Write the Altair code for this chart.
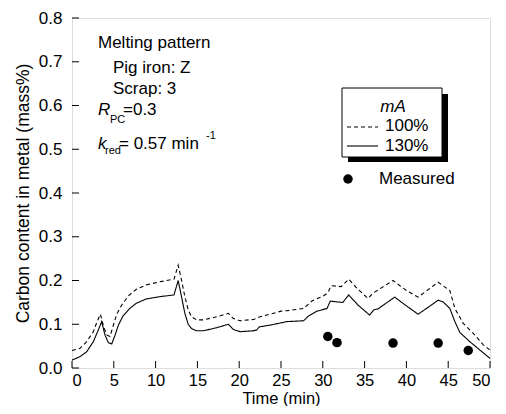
import altair as alt
import pandas as pd

# ---- data ----
t_100 = [0, 0.96, 1.75, 2.55, 3.0, 3.4, 3.8, 4.2, 4.55, 4.95, 5.35, 5.95, 6.75, 7.7, 8.9, 10.5, 12.2, 12.7,
         13.1, 13.5, 13.9, 14.3, 14.9, 15.7, 17.3, 18.7, 19.3, 20.1, 21.7, 22.5, 23.7, 25.0, 25.7, 27.7, 28.7,
         30.1, 30.6, 31.0, 32.2, 33.1, 34.1, 35.4, 36.0, 38.4, 40.0, 41.4, 43.8, 45.2, 45.8, 46.8, 48.0, 49.2, 50.0]
c_100 = [0.040, 0.045, 0.060, 0.083, 0.106, 0.123, 0.093, 0.075, 0.072, 0.098, 0.123, 0.144, 0.165, 0.180, 0.190,
         0.197, 0.203, 0.235, 0.201, 0.163, 0.133, 0.117, 0.110, 0.110, 0.117, 0.125, 0.113, 0.108, 0.111, 0.117,
         0.123, 0.130, 0.131, 0.136, 0.153, 0.165, 0.172, 0.188, 0.186, 0.203, 0.182, 0.159, 0.171, 0.200, 0.177,
         0.162, 0.196, 0.177, 0.136, 0.102, 0.079, 0.053, 0.041]

t_130 = [0, 0.96, 1.75, 2.55, 3.15, 3.55, 3.95, 4.35, 4.75, 5.15, 5.55, 6.1, 6.9, 7.7, 8.9, 10.5, 12.2, 12.7,
         13.1, 13.5, 13.9, 14.3, 14.9, 15.7, 17.3, 18.7, 19.3, 20.1, 21.7, 22.1, 22.4, 23.7, 25.7, 27.7, 28.3,
         29.3, 30.5, 30.9, 31.7, 32.4, 33.1, 34.2, 35.6, 36.1, 36.6, 38.6, 40.0, 41.4, 42.4, 43.8, 44.4, 45.2,
         45.8, 46.4, 47.6, 48.8, 50.0]
c_130 = [0.018, 0.026, 0.037, 0.060, 0.087, 0.106, 0.075, 0.058, 0.055, 0.075, 0.098, 0.119, 0.136, 0.148, 0.158,
         0.163, 0.167, 0.200, 0.163, 0.125, 0.100, 0.090, 0.085, 0.085, 0.092, 0.100, 0.088, 0.083, 0.085, 0.087,
         0.094, 0.098, 0.106, 0.108, 0.119, 0.130, 0.136, 0.153, 0.151, 0.150, 0.167, 0.144, 0.121, 0.133, 0.135,
         0.162, 0.142, 0.123, 0.136, 0.155, 0.151, 0.136, 0.106, 0.081, 0.060, 0.041, 0.022]

meas_t = [30.6, 31.7, 38.4, 43.8, 47.4]
meas_c = [0.072, 0.058, 0.057, 0.057, 0.040]

x_ticks = [0, 5, 10, 15, 20, 25, 30, 35, 40, 45, 50]
y_ticks = [0.0, 0.1, 0.2, 0.3, 0.4, 0.5, 0.6, 0.7, 0.8]

series_names = ["100%", "130%"]

FONT = "Liberation Sans"
W, H = 418, 350
DASH = [4, 3]

lines_df = pd.concat([
    pd.DataFrame({"t": t_100, "c": c_100, "s": series_names[0]}),
    pd.DataFrame({"t": t_130, "c": c_130, "s": series_names[1]}),
])
meas_df = pd.DataFrame({"t": meas_t, "c": meas_c})

xs = alt.Scale(domain=[0, 50], nice=False)
ys = alt.Scale(domain=[0, 0.8], nice=False)

x_axis = alt.Axis(values=x_ticks, ticks=False, tickSize=0, domain=False, grid=False,
                  labelFont=FONT, labelFontSize=16.5, labelColor="black", labelPadding=4,
                  title="Time (min)", titleFont=FONT, titleFontSize=16.5, titleFontWeight="normal",
                  titleColor="black", titleBaseline="alphabetic", titleY=35)
y_axis = alt.Axis(values=y_ticks, format=".1f", ticks=False, tickSize=0, domain=False, grid=False,
                  labelFont=FONT, labelFontSize=17, labelColor="black", labelPadding=10,
                  title="Carbon content in metal (mass%)", titleFont=FONT, titleFontSize=17.5,
                  titleFontWeight="normal", titleColor="black", titlePadding=6)

lines = alt.Chart(lines_df).mark_line(color="black", strokeWidth=1.1).encode(
    x=alt.X("t:Q", scale=xs, axis=x_axis),
    y=alt.Y("c:Q", scale=ys, axis=y_axis),
    strokeDash=alt.StrokeDash("s:N", scale=alt.Scale(domain=series_names, range=[DASH, [1, 0]]), legend=None),
    detail="s:N",
)

points = alt.Chart(meas_df).mark_point(filled=True, shape="circle", size=90, color="black", opacity=1).encode(
    x=alt.X("t:Q", scale=xs),
    y=alt.Y("c:Q", scale=ys),
)

xt = alt.Chart(pd.DataFrame({"v": x_ticks})).mark_rule(color="black", strokeWidth=1).encode(
    x=alt.X("v:Q", scale=xs), y=alt.value(H), y2=alt.value(H - 7))
yt = alt.Chart(pd.DataFrame({"v": y_ticks})).mark_rule(color="black", strokeWidth=1).encode(
    y=alt.Y("v:Q", scale=ys), x=alt.value(0), x2=alt.value(7))


def txt(s, x, y, size=17, style="normal", align="left"):
    return alt.Chart(pd.DataFrame({"s": [s]})).mark_text(
        font=FONT, fontSize=size, fontStyle=style, align=align, baseline="alphabetic", color="black"
    ).encode(text="s:N", x=alt.value(x), y=alt.value(y))


annot = [
    txt("Melting pattern", 26, 30),
    txt("Pig iron: Z", 41, 55),
    txt("Scrap: 3", 41, 76),
    txt("R", 26, 97, style="italic"),
    txt("PC", 38, 105, size=11),
    txt("=0.3", 51, 97),
    txt("k", 26, 131, style="italic"),
    txt("red", 33, 136, size=11),
    txt("= 0.57 min", 47, 131),
    txt("-1", 134, 121, size=11),
]

one = pd.DataFrame({"a": [0]})
shadow = alt.Chart(one).mark_rect(color="black").encode(
    x=alt.value(276), x2=alt.value(376), y=alt.value(76), y2=alt.value(144))
box = alt.Chart(one).mark_rect(fill="white", stroke="black", strokeWidth=1).encode(
    x=alt.value(270), x2=alt.value(370), y=alt.value(70), y2=alt.value(139))

leg_dash = alt.Chart(one).mark_rule(color="black", strokeWidth=1.1, strokeDash=DASH).encode(
    x=alt.value(275), x2=alt.value(306), y=alt.value(109))
leg_solid = alt.Chart(one).mark_rule(color="black", strokeWidth=1.1).encode(
    x=alt.value(275), x2=alt.value(306), y=alt.value(128))
leg_t1 = txt(series_names[0], 313, 113)
leg_t2 = txt(series_names[1], 313, 133)
leg_title = txt("mA", 321, 94, style="italic", align="center")
meas_dot = alt.Chart(one).mark_point(filled=True, shape="circle", size=90, color="black", opacity=1).encode(
    x=alt.value(276), y=alt.value(161))
meas_lbl = txt("Measured", 307, 166)

chart = alt.layer(
    lines, points, xt, yt, *annot, shadow, box, leg_dash, leg_solid, leg_t1, leg_t2, leg_title,
    meas_dot, meas_lbl
).properties(
    width=W, height=H,
    autosize=alt.AutoSizeParams(type="none"),
    padding={"left": 64, "top": 10, "right": 8, "bottom": 38},
).configure_view(stroke="black", strokeWidth=1.2).configure(background="white")

chart.save("out.html", embed_options={"renderer": "svg", "actions": False})
